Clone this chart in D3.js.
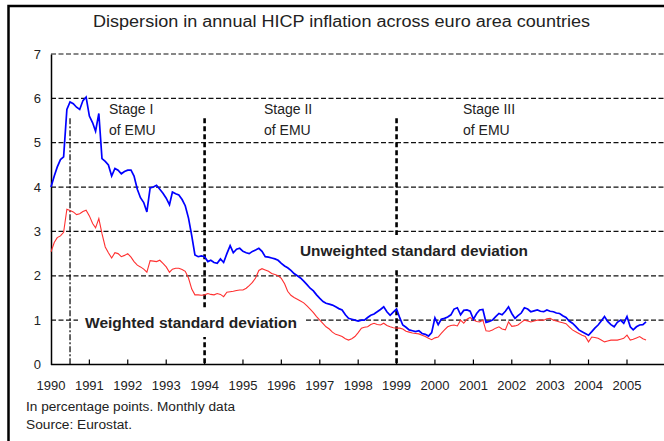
<!DOCTYPE html>
<html>
<head>
<meta charset="utf-8">
<script src="https://cdn.jsdelivr.net/npm/d3@7"></script>
<style>
  body { margin: 0; background: #fff; }
  svg { display: block; font-family: "Liberation Sans", Arial, sans-serif; }
</style>
</head>
<body>
<svg width="664" height="441"></svg>
<script>
var svg = d3.select("svg"),
    width = +svg.attr("width"),
    height = +svg.attr("height");

// monthly data, Jan 1990 onwards
var startMonth = new Date(1990, 0, 1);

var unweighted = [
  4.00,4.25,4.45,4.62,4.68,5.75,5.92,5.88,5.80,5.75,5.95,6.03,
  5.60,5.45,5.26,5.66,4.64,4.58,4.50,4.25,4.42,4.38,4.30,4.35,
  4.38,4.38,4.25,3.95,3.76,3.65,3.44,3.98,4.00,4.04,3.95,3.86,
  3.75,3.60,3.89,3.85,3.82,3.72,3.58,3.30,2.90,2.47,2.43,2.45,
  2.43,2.32,2.35,2.30,2.28,2.38,2.30,2.50,2.68,2.52,2.60,2.62,
  2.55,2.52,2.50,2.55,2.58,2.62,2.55,2.43,2.42,2.40,2.38,2.35,
  2.28,2.22,2.18,2.12,2.05,2.00,1.95,1.88,1.80,1.72,1.66,1.57,
  1.49,1.42,1.38,1.36,1.34,1.30,1.26,1.23,1.12,1.04,1.02,1.00,
  0.98,1.00,1.00,1.06,1.11,1.14,1.19,1.24,1.30,1.19,1.11,1.18,
  1.25,1.05,0.89,0.84,0.78,0.76,0.74,0.76,0.70,0.68,0.64,0.72,
  1.05,0.90,1.02,1.04,1.07,1.12,1.25,1.28,1.12,1.22,1.23,1.20,
  1.02,1.15,1.23,1.24,0.95,0.97,1.00,1.08,1.15,1.12,1.20,1.30,
  1.15,1.04,1.10,1.16,1.28,1.25,1.19,1.21,1.23,1.20,1.19,1.23,
  1.20,1.19,1.16,1.15,1.10,1.06,0.98,0.93,0.86,0.78,0.74,0.70,
  0.66,0.74,0.82,0.89,0.98,1.08,0.97,0.90,0.85,0.95,1.00,0.93,
  1.08,0.85,0.78,0.85,0.89,0.90,0.96
];

var weighted = [
  2.54,2.75,2.86,2.90,2.98,3.50,3.47,3.44,3.38,3.40,3.45,3.48,
  3.35,3.18,3.08,3.29,2.95,2.65,2.52,2.40,2.52,2.50,2.43,2.46,
  2.50,2.42,2.32,2.24,2.20,2.15,2.08,2.34,2.33,2.32,2.35,2.28,
  2.20,2.08,2.15,2.17,2.17,2.14,2.10,1.95,1.70,1.57,1.57,1.56,
  1.57,1.60,1.58,1.57,1.60,1.58,1.53,1.63,1.64,1.65,1.67,1.68,
  1.68,1.72,1.78,1.85,1.95,2.12,2.16,2.13,2.10,2.05,2.03,2.00,
  1.94,1.82,1.65,1.56,1.51,1.47,1.43,1.39,1.32,1.25,1.17,1.08,
  1.00,0.92,0.85,0.80,0.73,0.68,0.66,0.63,0.58,0.55,0.58,0.63,
  0.72,0.82,0.84,0.85,0.90,0.93,0.90,0.89,0.93,0.88,0.85,0.83,
  0.82,0.82,0.80,0.75,0.73,0.71,0.70,0.69,0.66,0.63,0.59,0.56,
  0.60,0.62,0.70,0.78,0.85,0.88,0.89,0.87,1.00,0.93,1.02,1.06,
  1.00,0.97,0.96,1.00,0.76,0.75,0.78,0.82,0.85,0.80,0.78,0.96,
  0.86,0.87,0.89,0.95,1.00,0.98,0.96,0.98,1.00,1.00,1.00,1.03,
  1.04,1.00,0.98,0.96,0.94,0.92,0.85,0.78,0.74,0.70,0.66,0.63,
  0.51,0.62,0.61,0.59,0.55,0.51,0.53,0.55,0.55,0.55,0.57,0.59,
  0.66,0.55,0.57,0.60,0.63,0.58,0.55
];

var years = d3.range(1990, 2006);
var yTicks = [0, 1, 2, 3, 4, 5, 6, 7];

var stages = [
  {date: new Date(1990, 6, 1), lines: ["Stage I", "of EMU"], heavy: false},
  {date: new Date(1994, 0, 1), lines: ["Stage II", "of EMU"], heavy: true},
  {date: new Date(1999, 0, 1), lines: ["Stage III", "of EMU"], heavy: true}
];

var title = "Dispersion in annual HICP inflation across euro area countries";
var notes = ["In percentage points. Monthly data", "Source: Eurostat."];

var x = d3.scaleTime()
    .domain([new Date(1990, 0, 1), new Date(2005, 0, 1)])
    .range([51, 627]);
var y = d3.scaleLinear()
    .domain([0, 7])
    .range([364.5, 54]);

function dateOf(i) { return d3.timeMonth.offset(startMonth, i); }

// frame (cropped on right/bottom)
svg.append("path")
    .attr("d", "M8.5," + height + "V6H" + width)
    .attr("fill", "none")
    .attr("stroke", "#000")
    .attr("stroke-width", 2.5);

svg.append("text")
    .attr("x", 93)
    .attr("y", 27)
    .attr("textLength", 497)
    .attr("lengthAdjust", "spacingAndGlyphs")
    .attr("fill", "#222")
    .style("font-size", "16px")
    .text(title);

// horizontal gridlines
svg.selectAll(".grid")
    .data(yTicks.filter(function(d) { return d > 0; }))
    .enter().append("line")
      .attr("class", "grid")
      .attr("x1", 51).attr("x2", width)
      .attr("y1", function(d) { return y(d); })
      .attr("y2", function(d) { return y(d); })
      .attr("stroke", "#111")
      .attr("stroke-width", 1.2)
      .attr("stroke-dasharray", "5,2.5");

// stage divider lines
svg.selectAll(".stage")
    .data(stages)
    .enter().append("line")
      .attr("class", "stage")
      .attr("x1", function(d) { return x(d.date); })
      .attr("x2", function(d) { return x(d.date); })
      .attr("y1", y(5.55)).attr("y2", y(0))
      .attr("stroke", "#000")
      .attr("stroke-width", function(d) { return d.heavy ? 2.6 : 1.2; })
      .attr("stroke-dasharray", function(d) { return d.heavy ? "5,3" : "6,2,2,2"; });

// y axis
svg.append("g")
    .attr("transform", "translate(51,0)")
    .call(d3.axisLeft(y).tickValues(yTicks).tickFormat(d3.format("d")).tickSize(0).tickPadding(10))
    .call(function(g) {
      g.select(".domain").attr("stroke", "#000").attr("stroke-width", 1.5);
      g.selectAll("text").style("font-size", "13px").attr("fill", "#222");
    });

// x axis
svg.append("line")
    .attr("x1", 51).attr("x2", width)
    .attr("y1", y(0)).attr("y2", y(0))
    .attr("stroke", "#000").attr("stroke-width", 1.5);

svg.selectAll(".xtick")
    .data(years.slice(1))
    .enter().append("line")
      .attr("class", "xtick")
      .attr("x1", function(d) { return x(new Date(d, 0, 1)); })
      .attr("x2", function(d) { return x(new Date(d, 0, 1)); })
      .attr("y1", y(0) - 5).attr("y2", y(0))
      .attr("stroke", "#000").attr("stroke-width", 1.2);

svg.selectAll(".xlab")
    .data(years)
    .enter().append("text")
      .attr("class", "xlab")
      .attr("x", function(d) { return x(new Date(d, 0, 1)); })
      .attr("y", 390)
      .attr("text-anchor", "middle")
      .attr("fill", "#222")
      .style("font-size", "13px")
      .text(function(d) { return d; });

// stage labels
stages.forEach(function(s, i) {
  var tx = [109, 264, 463][i];
  s.lines.forEach(function(t, j) {
    svg.append("text")
        .attr("x", tx)
        .attr("y", 114 + j * 21)
        .attr("fill", "#222")
        .style("font-size", "14px")
        .text(t);
  });
});

// white boxes behind the series labels
svg.append("rect").attr("x", 296).attr("y", 235).attr("width", 236).attr("height", 33).attr("fill", "#fff");
svg.append("rect").attr("x", 78).attr("y", 309).attr("width", 228).attr("height", 28).attr("fill", "#fff");

svg.append("text")
    .attr("x", 300).attr("y", 256)
    .attr("textLength", 228)
    .attr("lengthAdjust", "spacingAndGlyphs")
    .attr("fill", "#222")
    .style("font-size", "14px").style("font-weight", "bold")
    .text("Unweighted standard deviation");

svg.append("text")
    .attr("x", 85).attr("y", 328)
    .attr("textLength", 212)
    .attr("lengthAdjust", "spacingAndGlyphs")
    .attr("fill", "#222")
    .style("font-size", "14px").style("font-weight", "bold")
    .text("Weighted standard deviation");

// series
var line = d3.line()
    .x(function(d, i) { return x(dateOf(i)); })
    .y(function(d) { return y(d); });

svg.append("path")
    .datum(weighted)
    .attr("fill", "none")
    .attr("stroke", "#ff3030")
    .attr("stroke-width", 1.1)
    .attr("d", line);

svg.append("path")
    .datum(unweighted)
    .attr("fill", "none")
    .attr("stroke", "#0000ff")
    .attr("stroke-width", 1.7)
    .attr("d", line);

// notes
var noteWidths = [209, 106];
notes.forEach(function(t, i) {
  svg.append("text")
      .attr("x", 26)
      .attr("y", 411 + i * 18)
      .attr("textLength", noteWidths[i])
      .attr("lengthAdjust", "spacingAndGlyphs")
      .attr("fill", "#222")
      .style("font-size", "12px")
      .text(t);
});
</script>
</body>
</html>
